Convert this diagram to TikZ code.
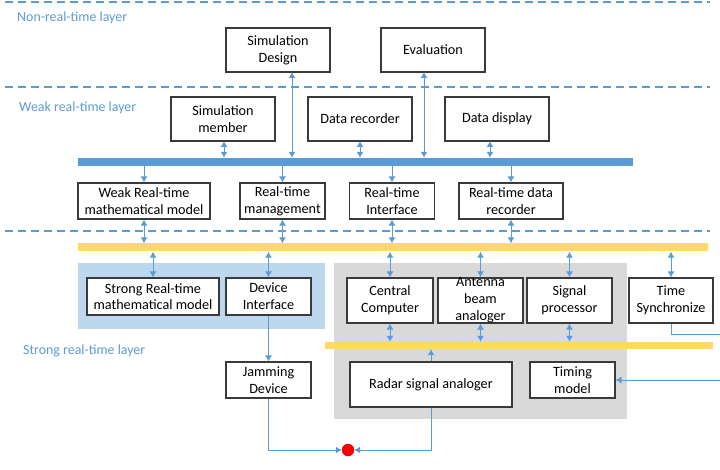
\documentclass[tikz,border=0pt]{standalone}
\usepackage{fontspec}
\setmainfont{Carlito}
\usetikzlibrary{arrows.meta}
\definecolor{lblue}{HTML}{5B9BD5}
\definecolor{ybus}{HTML}{FFD966}
\definecolor{bregion}{HTML}{BDD7EE}
\definecolor{gregion}{HTML}{D9D9D9}
\definecolor{bordc}{HTML}{3A3A3A}
\tikzset{
  box/.style={draw=bordc, line width=1.1pt, fill=white, inner sep=0pt, align=center, font=\fontsize{14.2}{16.7}\selectfont},
  txt/.style={inner sep=0pt, align=center, font=\fontsize{14.2}{16.7}\selectfont},
  layer/.style={text=lblue, anchor=west, inner sep=0pt, font=\fontsize{13.9}{16}\selectfont},
  sep/.style={draw=lblue, line width=1.2pt, dash pattern=on 8pt off 5pt},
  conn/.style={draw=lblue, line width=1pt},
  sar/.style={conn, -{Latex[length=6pt,width=7pt]}},
  dar/.style={conn, {Latex[length=6pt,width=7pt]}-{Latex[length=6pt,width=7pt]}},
}
\begin{document}
\begin{tikzpicture}[x=1pt,y=-1pt]
\useasboundingbox (0,0) rectangle (720,470);
% separators
\coordinate (s1a) at (5,2); \coordinate (s1b) at (710,2);
\coordinate (s2a) at (5,87); \coordinate (s2b) at (710,87);
\coordinate (s3a) at (5,231); \coordinate (s3b) at (710,231);
\draw[sep] (s1a) -- (s1b);
\draw[sep] (s2a) -- (s2b);
\draw[sep] (s3a) -- (s3b);
% layer labels
\node[layer] (l1) at (17,18) {Non-real-time layer};
\node[layer] (l2) at (19,108) {Weak real-time layer};
\node[layer] (l3) at (23,351) {Strong real-time layer};
% regions
\node[fill=bregion, inner sep=0pt, minimum width=247pt, minimum height=66pt] (breg) at (201.5,296) {};
\node[fill=gregion, inner sep=0pt, minimum width=293pt, minimum height=156pt] (greg) at (480.5,341) {};
% buses
\node[fill=lblue, inner sep=0pt, minimum width=555pt, minimum height=8pt] (bus1) at (355.5,162) {};
\node[fill=ybus, inner sep=0pt, minimum width=630pt, minimum height=8pt] (ybus1) at (393,247.5) {};
\node[fill=ybus, inner sep=0pt, minimum width=388pt, minimum height=7pt] (ybus2) at (519,345.5) {};
% top boxes
\node[box, minimum width=104pt, minimum height=44pt] (sd) at (278,50) {Simulation\\Design};
\node[box, minimum width=104pt, minimum height=44pt] (ev) at (433,50) {Evaluation};
\node[box, minimum width=104pt, minimum height=44pt] (sm) at (223,119) {Simulation\\member};
\node[box, minimum width=104pt, minimum height=44pt] (dr) at (360,119) {Data recorder};
\node[box, minimum width=104pt, minimum height=44pt] (dd) at (497,119) {Data display};
% weak row
\node[box, minimum width=132pt, minimum height=36pt] (wm) at (144,201) {Weak Real-time\\mathematical model};
\node[box, minimum width=85pt, minimum height=36pt] (rm) at (282.5,201) {Real-time\\management};
\node[box, minimum width=85pt, minimum height=36pt] (ri) at (392,201) {Real-time\\Interface};
\node[box, minimum width=104pt, minimum height=36pt] (rd) at (511,201) {Real-time data\\recorder};
% strong boxes
\node[box, minimum width=132pt, minimum height=37pt] (sr) at (153,296.5) {Strong Real-time\\mathematical model};
\node[box, minimum width=85pt, minimum height=37pt] (di) at (268.5,296.5) {Device\\Interface};
\node[box, minimum width=85pt, minimum height=36pt] (jd) at (268.5,380) {Jamming\\Device};
\node[box, minimum width=86pt, minimum height=45pt] (cc) at (390,300.5) {Central\\Computer};
\node[box, minimum width=85pt, minimum height=45pt] (ab) at (480.5,300.5) {};
\node[txt] (abt) at (480.5,300) {Antenna\\beam\\analoger};
\node[box, minimum width=85pt, minimum height=45pt] (sp) at (569.5,300.5) {Signal\\processor};
\node[box, minimum width=84pt, minimum height=45pt] (ts) at (671,300.5) {Time\\Synchronize};
\node[box, minimum width=162pt, minimum height=45pt] (ra) at (431,384.5) {Radar signal analoger};
\node[box, minimum width=85pt, minimum height=36pt] (tm) at (572.5,380) {Timing\\model};
\node[circle, fill=red, draw=red!80!black, line width=0.4pt, minimum size=12pt, inner sep=0pt] (rc) at (348,450) {};
% connectors top
\coordinate (sdx) at (292,72);
\coordinate (evx) at (424,72);
\coordinate (smx) at (224,141);
\coordinate (drx) at (360,141);
\coordinate (ddx) at (490,141);
\draw[dar] (sdx) -- (sdx |- bus1.north);
\draw[dar] (evx) -- (evx |- bus1.north);
\draw[dar] (smx) -- (smx |- bus1.north);
\draw[dar] (drx) -- (drx |- bus1.north);
\draw[dar] (ddx) -- (ddx |- bus1.north);
% bus1 to weak row
\draw[sar] (bus1.south -| wm.north) -- (wm.north);
\draw[sar] (bus1.south -| rm.north) -- (rm.north);
\draw[sar] (bus1.south -| ri.north) -- (ri.north);
\draw[sar] (bus1.south -| rd.north) -- (rd.north);
% weak row to ybus1
\draw[dar] (wm.south) -- (wm.south |- ybus1.north);
\draw[dar] (rm.south) -- (rm.south |- ybus1.north);
\draw[dar] (ri.south) -- (ri.south |- ybus1.north);
\draw[dar] (rd.south) -- (rd.south |- ybus1.north);
% ybus1 to strong row
\draw[dar] (ybus1.south -| sr.north) -- (sr.north);
\draw[dar] (ybus1.south -| di.north) -- (di.north);
\draw[dar] (ybus1.south -| cc.north) -- (cc.north);
\draw[dar] (ybus1.south -| ab.north) -- (ab.north);
\draw[dar] (ybus1.south -| sp.north) -- (sp.north);
\draw[dar] (ybus1.south -| ts.north) -- (ts.north);
% strong row to ybus2
\draw[dar] (cc.south) -- (cc.south |- ybus2.north);
\draw[dar] (ab.south) -- (ab.south |- ybus2.north);
\draw[dar] (sp.south) -- (sp.south |- ybus2.north);
\draw[sar] (ra.north) -- (ra.north |- ybus2.south);
% device interface to jamming
\draw[sar] (di.south) -- (jd.north);
% to red circle
\draw[sar] (jd.south) |- (rc.west);
\draw[sar] (ra.south) |- (rc.east);
% time sync lines off the edge
\coordinate (tsr) at (720,334);
\coordinate (tmr) at (720,380);
\draw[conn] (ts.south) |- (tsr);
\draw[sar] (tmr) -- (tm.east);
\end{tikzpicture}
\end{document}
